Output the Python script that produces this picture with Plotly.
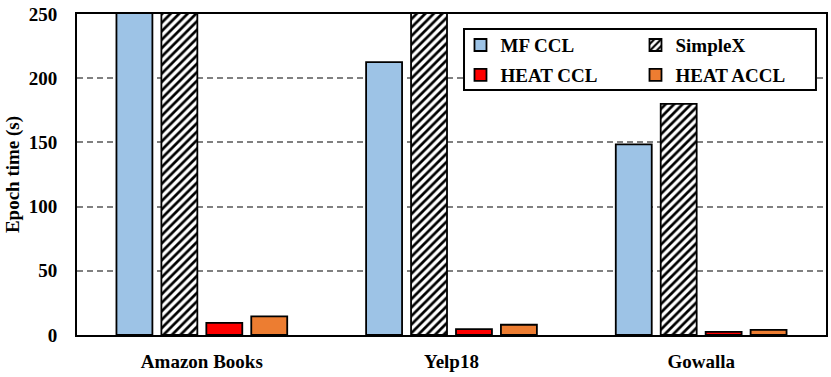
import plotly.graph_objects as go

datasets = ["Amazon Books", "Yelp18", "Gowalla"]
methods = ["MF CCL", "SimpleX", "HEAT CCL", "HEAT ACCL"]
mf_ccl = [330, 212.5, 148.5]
simplex = [360, 270, 180]
heat_ccl = [9.5, 4.5, 2.5]
heat_accl = [14.5, 8, 4]
y_ticks = [0, 50, 100, 150, 200, 250]

FONT = "Liberation Serif"
colors = ["#9DC3E6", "white", "#FF0000", "#ED7D31"]
legend_ids = ["legend", "legend", "legend2", "legend2"]

fig = go.Figure()
for name, vals, col, lg in zip(methods, [mf_ccl, simplex, heat_ccl, heat_accl], colors, legend_ids):
    marker = dict(color=col, line=dict(color="black", width=1.8))
    if name == "SimpleX":
        marker["pattern"] = dict(shape="/", fgcolor="black", bgcolor="white",
                                 size=6, solidity=0.45, fillmode="replace")
    fig.add_trace(go.Bar(x=datasets, y=vals, name=name, marker=marker, legend=lg))

legend_style = dict(
    orientation="h", xanchor="left", yanchor="middle",
    entrywidth=130, traceorder="normal",
    borderwidth=0, bgcolor="rgba(0,0,0,0)",
    font=dict(family=FONT, size=19, color="black", weight="bold"),
)

fig.update_layout(
    width=831, height=377,
    margin=dict(l=77, r=5, t=14, b=42),
    paper_bgcolor="white", plot_bgcolor="white",
    barmode="group", bargap=0.28, bargroupgap=0.2,
    font=dict(family=FONT, color="black"),
    legend=dict(x=0.512, y=0.903, **legend_style),
    legend2=dict(x=0.512, y=0.81, **legend_style),
    # box around the two legends (they are drawn on top of it)
    shapes=[dict(type="rect", xref="paper", yref="paper",
                 x0=0.5167, x1=0.9866, y0=0.7632, y1=0.9533,
                 line=dict(color="black", width=2), fillcolor="white",
                 layer="above")],
)

fig.update_yaxes(
    range=[0, 250], tickvals=y_ticks,
    showgrid=True, gridcolor="#808080", griddash="6px,4px", gridwidth=2,
    showline=True, linecolor="black", linewidth=2, mirror=True,
    ticks="", zeroline=False, automargin=False, ticklabelstandoff=14,
    tickfont=dict(family=FONT, size=19, color="black", weight="bold"),
    title=dict(text="Epoch time (s)", standoff=4,
               font=dict(family=FONT, size=19, color="black", weight="bold")),
)
fig.update_xaxes(
    showline=True, linecolor="black", linewidth=2, mirror=True,
    ticks="", ticklabelstandoff=8, automargin=False,
    tickfont=dict(family=FONT, size=19, color="black", weight="bold"),
)

# page has a default 8px body margin; drop it so the figure sits at the corner
fig.write_html("out.html", config={"displayModeBar": False},
               post_script="document.body.style.margin='0';")
